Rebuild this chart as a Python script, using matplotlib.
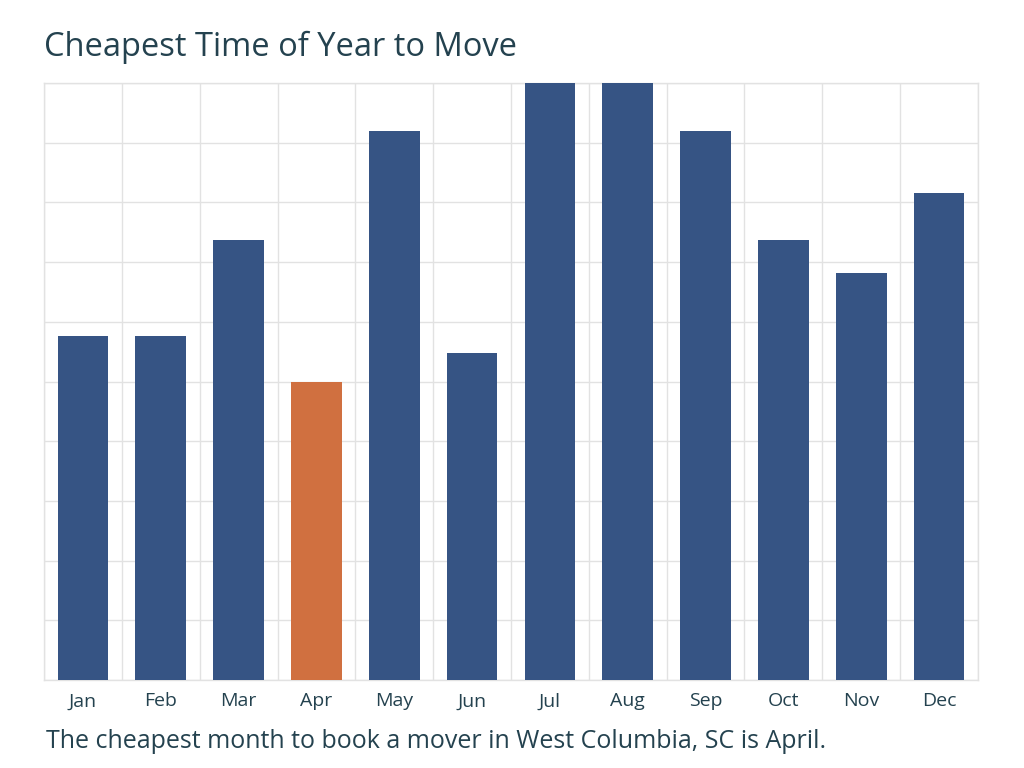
import matplotlib
matplotlib.use("Agg")
import matplotlib.pyplot as plt
import numpy as np

months = ["Jan", "Feb", "Mar", "Apr", "May", "Jun", "Jul", "Aug", "Sep", "Oct", "Nov", "Dec"]
values = [5.76, 5.76, 7.37, 5.0, 9.2, 5.48, 10.0, 10.0, 9.2, 7.37, 6.82, 8.16]
highlight = "Apr"
title = "Cheapest Time of Year to Move"
caption = "The cheapest month to book a mover in West Columbia, SC is April."

blue = "#365484"
orange = "#d07040"
text_color = "#24424f"
grid_color = "#e2e2e2"

plt.rcParams["font.family"] = ["Open Sans", "DejaVu Sans"]

fig = plt.figure(figsize=(10.24, 7.68), dpi=100)
ax = fig.add_axes([44/1024, 1 - 680/768, (978-44)/1024, (680-83)/768])

x = np.arange(len(months))
colors = [orange if m == highlight else blue for m in months]
ax.bar(x, values, width=0.65, color=colors, zorder=3)

ax.set_xlim(-0.5, len(months) - 0.5)
ax.set_ylim(0, 10)
ax.set_yticks(np.arange(0, 11, 1))
ax.set_yticklabels([])
ax.set_xticks(x)
ax.set_xticklabels(months, fontsize=14, color=text_color, fontweight="medium")
ax.set_xticks(np.arange(-0.5, len(months), 1), minor=True)
ax.tick_params(axis="both", which="both", length=0)
ax.tick_params(axis="x", pad=9)
ax.grid(True, axis="y", which="major", color=grid_color, linewidth=1, zorder=0)
ax.grid(True, axis="x", which="minor", color=grid_color, linewidth=1, zorder=0)
ax.grid(False, axis="x", which="major")
for s in ax.spines.values():
    s.set_color(grid_color)
    s.set_linewidth(1)

fig.text(44/1024, 1 - 47/768, title, fontsize=23.5, color=text_color, va="center", ha="left", fontweight="medium")
fig.text(46/1024, 1 - 741/768, caption, fontsize=18, color=text_color, va="center", ha="left", fontweight="medium")

fig.savefig("out.png", dpi=100)
